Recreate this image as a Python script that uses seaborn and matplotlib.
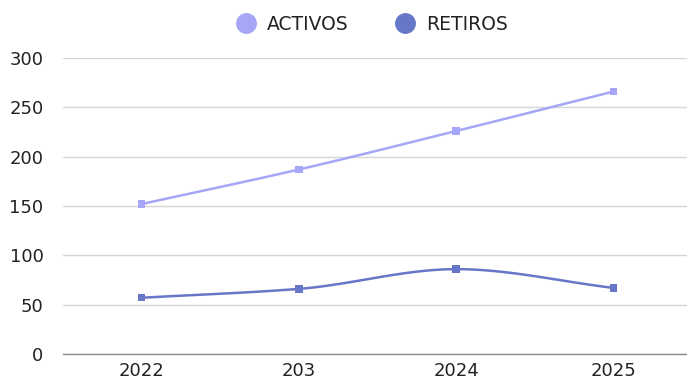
import numpy as np
import pandas as pd
import matplotlib
matplotlib.use("Agg")
import matplotlib.pyplot as plt
import seaborn as sns
from matplotlib.lines import Line2D

# Data
categories = ["2022", "203", "2024", "2025"]
activos = [152, 187, 226, 266]
retiros = [57, 66, 86, 67]
y_ticks = [0, 50, 100, 150, 200, 250, 300]

series_names = ["ACTIVOS", "RETIROS"]
colors = {"ACTIVOS": "#a5a6f8", "RETIROS": "#6677c8"}


def monotone_curve(y, samples=40):
    """Monotone cubic (Fritsch-Carlson) interpolation over integer positions."""
    y = np.asarray(y, dtype=float)
    n = len(y)
    x = np.arange(n, dtype=float)
    d = np.diff(y)
    m = np.zeros(n)
    m[0], m[-1] = d[0], d[-1]
    for i in range(1, n - 1):
        if d[i - 1] * d[i] <= 0:
            m[i] = 0.0
        else:
            m[i] = 2.0 / (1.0 / d[i - 1] + 1.0 / d[i])
    xs, ys = [], []
    for i in range(n - 1):
        t = np.linspace(0, 1, samples, endpoint=(i == n - 2))
        h00 = 2 * t**3 - 3 * t**2 + 1
        h10 = t**3 - 2 * t**2 + t
        h01 = -2 * t**3 + 3 * t**2
        h11 = t**3 - t**2
        xs.append(x[i] + t)
        ys.append(h00 * y[i] + h10 * m[i] + h01 * y[i + 1] + h11 * m[i + 1])
    return np.concatenate(xs), np.concatenate(ys)


points = pd.DataFrame({
    "pos": list(range(len(categories))) * 2,
    "value": activos + retiros,
    "serie": ["ACTIVOS"] * len(activos) + ["RETIROS"] * len(retiros),
})

curves = []
for name, vals in zip(series_names, [activos, retiros]):
    cx, cy = monotone_curve(vals)
    curves.append(pd.DataFrame({"pos": cx, "value": cy, "serie": name}))
curves = pd.concat(curves, ignore_index=True)

sns.set_theme(style="white")
plt.rcParams["font.family"] = ["DejaVu Sans"]

fig = plt.figure(figsize=(6.87, 3.81), dpi=100)
ax = fig.add_axes([63 / 687, 27 / 381, 629 / 687, 296 / 381])

sns.lineplot(data=curves, x="pos", y="value", hue="serie", palette=colors,
             linewidth=1.8, legend=False, ax=ax, sort=False, estimator=None)
sns.scatterplot(data=points, x="pos", y="value", hue="serie", palette=colors,
                marker="s", s=28, linewidth=0, legend=False, ax=ax, zorder=4)

ax.set_xlim(-0.5, 3.5)
ax.set_ylim(0, 300)
ax.set_yticks(y_ticks)
ax.set_xticks(range(len(categories)))
ax.set_xticklabels(categories)
ax.set_xlabel("")
ax.set_ylabel("")
ax.tick_params(axis="both", length=0, labelsize=13, colors="#222222")
ax.tick_params(axis="y", pad=14)
ax.tick_params(axis="x", pad=6)

ax.grid(axis="y", color="#d6d6d6", linewidth=1)
ax.set_axisbelow(True)
for side in ["top", "right", "left"]:
    ax.spines[side].set_visible(False)
ax.spines["bottom"].set_color("#8c8c8c")
ax.spines["bottom"].set_linewidth(1)

handles = [Line2D([0], [0], marker="o", linestyle="", markersize=14,
                  markerfacecolor=colors[n], markeredgecolor=colors[n])
           for n in series_names]
fig.legend(handles, series_names, loc="upper center",
           bbox_to_anchor=(0.535, 1.005), ncol=2, frameon=False,
           fontsize=13.5, handletextpad=0.15, columnspacing=2.0,
           labelcolor="#222222")

fig.savefig("out.png", dpi=100)
